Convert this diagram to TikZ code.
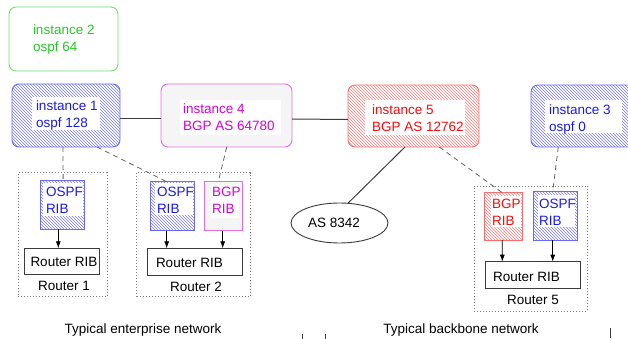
\documentclass[tikz,border=0pt]{standalone}
\usepackage{fontspec}
\setmainfont{Liberation Sans}
\usetikzlibrary{fit,patterns,shapes.geometric,arrows.meta}
\definecolor{grntxt}{RGB}{40,200,40}
\definecolor{grnbrd}{RGB}{110,225,110}
\definecolor{blutxt}{RGB}{25,25,240}
\definecolor{blubrd}{RGB}{105,105,245}
\definecolor{bluhat}{RGB}{120,120,245}
\definecolor{magtxt}{RGB}{215,0,215}
\definecolor{magbrd}{RGB}{225,110,225}
\definecolor{redtxt}{RGB}{250,10,10}
\definecolor{redbrd}{RGB}{252,110,110}
\definecolor{redhat}{RGB}{255,125,125}
\definecolor{lightfill}{RGB}{245,245,245}
\definecolor{linegray}{RGB}{60,60,60}
\newcommand\fsz{\fontsize{13.5}{17}\selectfont}
\tikzset{
  every node/.style={font=\fsz, inner sep=0pt, outer sep=0pt},
  bigbox/.style={rounded corners=7pt, line width=0.9pt},
  ribbox/.style={line width=0.9pt},
  bluehatch/.style={draw=blubrd, pattern=north west lines, pattern color=bluhat},
  redhatch/.style={draw=redbrd, pattern=north west lines, pattern color=redhat},
  magbox/.style={draw=magbrd, fill=lightfill},
  whitebg/.style={fill=white, draw=none},
  lbl/.style={align=left, anchor=north west},
  onelbl/.style={anchor=base west},
  ctrlbl/.style={anchor=base},
  conn/.style={draw=linegray, line width=1pt},
  dconn/.style={draw=linegray!80, line width=0.8pt, dash pattern=on 5pt off 4pt},
  routerbox/.style={draw=gray, line width=0.8pt, dash pattern=on 1pt off 2pt},
  plainbox/.style={draw=linegray, line width=0.9pt},
  arr/.style={draw=black, line width=0.8pt, -{Latex[length=7pt,width=5pt]}},
}
\begin{document}
\begin{tikzpicture}[x=1pt,y=-1pt]
\useasboundingbox (0,0) rectangle (628,339);

% ---- instance boxes ----
\node[bigbox, draw=grnbrd, fit={(9,7) (118,71)}] (inst2) {};
\node[lbl, text=grntxt] (t2) at (33,24.3) {instance 2\\ospf 64};

\node[bigbox, bluehatch, fit={(12,84) (120,147)}] (inst1) {};
\node[whitebg, fit={(32,97) (100,130)}] (w1) {};
\node[lbl, text=blutxt] (t1) at (36,100.3) {instance 1\\ospf 128};

\node[bigbox, magbox, fit={(161,84) (292,147)}] (inst4) {};
\node[whitebg, fit={(180,100) (281,135)}] (w4) {};
\node[lbl, text=magtxt] (t4) at (183,103.6) {instance 4\\BGP AS 64780};

\node[bigbox, redhatch, fit={(348,85) (479,147)}] (inst5) {};
\node[whitebg, fit={(365,100) (465,135)}] (w5) {};
\node[lbl, text=redtxt] (t5) at (372,104.3) {instance 5\\BGP AS 12762};

\node[bigbox, bluehatch, fit={(531,85) (640,147)}] (inst3) {};
\node[whitebg, fit={(545,100) (622,133)}] (w3) {};
\node[lbl, text=blutxt] (t3) at (549,104.3) {instance 3\\ospf 0};

% ---- AS 8342 ----
\node[ellipse, draw=linegray, line width=0.9pt, minimum width=97pt, minimum height=40pt] (as) at (339.5,223) {};
\node[ctrlbl] (ast) at (334,227) {AS 8342};

% ---- Router 1 ----
\node[routerbox, fit={(18.3,172.7) (107.3,296.7)}] (rt1) {};
\node[ribbox, bluehatch, fit={(40,180.7) (84.3,229.3)}] (rib1o) {};
\node[whitebg, fit={(43,183) (83,216)}] (wr1o) {};
\node[lbl, text=blutxt] (tr1o) at (46,187.3) {OSPF\\RIB};
\node[plainbox, fit={(24,248.3) (99.3,274.3)}] (rr1) {};
\node[onelbl] (trr1) at (30.5,266) {Router RIB};
\node[ctrlbl] (lr1) at (64,290) {Router 1};

% ---- Router 2 ----
\node[routerbox, fit={(136.7,172.7) (250,296.7)}] (rt2) {};
\node[ribbox, bluehatch, fit={(150,181.7) (194.3,230.5)}] (rib2o) {};
\node[whitebg, fit={(155,183) (193,215)}] (wr2o) {};
\node[lbl, text=blutxt] (tr2o) at (157,187.3) {OSPF\\RIB};
\node[ribbox, magbox, fit={(204.3,181.7) (242.7,230.5)}] (rib2b) {};
\node[whitebg, fit={(211,184) (239,218)}] (wr2b) {};
\node[lbl, text=magtxt] (tr2b) at (212,187.3) {BGP\\RIB};
\node[plainbox, fit={(147.7,248.3) (242.7,275)}] (rr2) {};
\node[onelbl] (trr2) at (156,267) {Router RIB};
\node[ctrlbl] (lr2) at (196,291) {Router 2};

% ---- Router 5 ----
\node[routerbox, fit={(474.3,186) (587.7,311)}] (rt5) {};
\node[ribbox, redhatch, fit={(484.3,192.7) (522.3,240)}] (rib5b) {};
\node[whitebg, fit={(491,196) (521,227)}] (wr5b) {};
\node[lbl, text=redtxt] (tr5b) at (492,199.3) {BGP\\RIB};
\node[ribbox, bluehatch, fit={(533.3,191.7) (577.7,240)}] (rib5o) {};
\node[whitebg, fit={(538,195) (575,227)}] (wr5o) {};
\node[lbl, text=blutxt] (tr5o) at (539,199.3) {OSPF\\RIB};
\node[plainbox, fit={(485.7,261.7) (580,288.3)}] (rr5) {};
\node[onelbl] (trr5) at (493,281) {Router RIB};
\node[ctrlbl] (lr5) at (533,304) {Router 5};

% ---- captions ----
\node[ctrlbl] (cap1) at (143,333) {Typical enterprise network};
\node[ctrlbl] (cap2) at (461,333) {Typical backbone network};

% ---- solid connectors ----
\draw[conn] ([yshift=-3pt]inst1.east) -- ([yshift=-3pt]inst4.west);
\draw[conn] ([yshift=-3.5pt]inst4.east) -- ([yshift=-3.5pt]inst5.west);
\draw[conn] ([xshift=57pt]inst5.south west) -- (as.67);

% ---- dashed connectors ----
\draw[dconn] ([xshift=51pt]inst1.south west) -- ([xshift=1pt]rib1o.north);
\draw[dconn] ([xshift=85pt]inst1.south west) -- ([xshift=-5.5pt]rib2o.north);
\draw[dconn] ([xshift=65.7pt]inst4.south west) -- ([xshift=-5.2pt]rib2b.north);
\draw[dconn] ([xshift=91.3pt]inst5.south west) -- ([xshift=-1pt]rib5b.north);
\draw[dconn] ([xshift=27.3pt]inst3.south west) -- ([xshift=-2.8pt]rib5o.north);

% ---- arrows ----
\draw[arr] ([xshift=-3.85pt]rib1o.south) -- ([xshift=-3.35pt]rr1.north);
\draw[arr] ([xshift=-5.45pt]rib2o.south) -- ([xshift=-28.5pt]rr2.north);
\draw[arr] ([xshift=-0.8pt]rib2b.south) -- ([xshift=27.5pt]rr2.north);
\draw[arr] ([xshift=-1pt]rib5b.south) -- ([xshift=-30.55pt]rr5.north);
\draw[arr] ([xshift=-2.8pt]rib5o.south) -- ([xshift=19.85pt]rr5.north);

% ---- small tick marks at bottom ----
\draw[linegray, line width=0.8pt] (302.7,334) -- (302.7,339);
\draw[linegray, line width=0.8pt] (325,334) -- (325,339);
\draw[linegray, line width=0.8pt] (610,328) -- (610,338);
\end{tikzpicture}
\end{document}
